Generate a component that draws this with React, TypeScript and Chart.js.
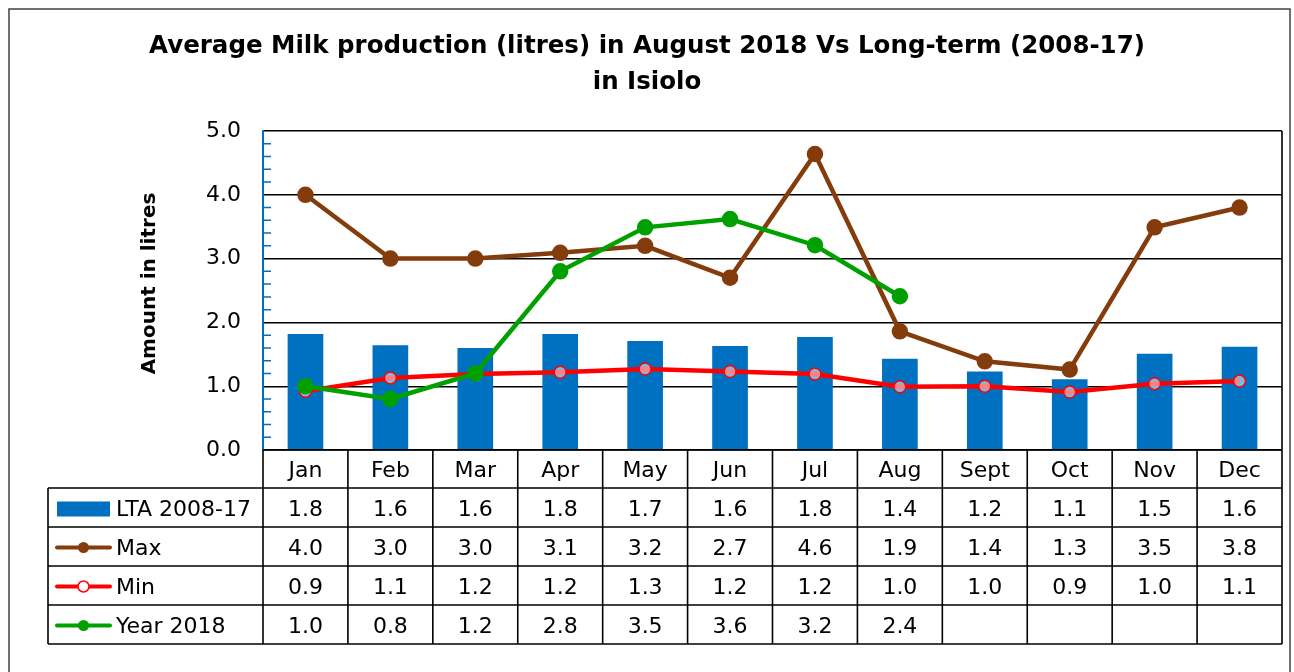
import React, { useEffect, useRef } from 'react';
import { Chart, registerables } from 'chart.js';

Chart.register(...registerables);

const titleLines = ['Average Milk production (litres) in August 2018 Vs Long-term (2008-17)', 'in Isiolo'];
const yAxisTitle = 'Amount in litres';
const months = ['Jan', 'Feb', 'Mar', 'Apr', 'May', 'Jun', 'Jul', 'Aug', 'Sept', 'Oct', 'Nov', 'Dec'];
const ltaValues = [1.82, 1.64, 1.6, 1.82, 1.71, 1.63, 1.77, 1.43, 1.23, 1.11, 1.51, 1.62];
const maxValues = [4.0, 3.0, 3.0, 3.09, 3.2, 2.7, 4.64, 1.86, 1.39, 1.26, 3.49, 3.8];
const minValues = [0.92, 1.13, 1.19, 1.22, 1.27, 1.23, 1.19, 0.99, 1.0, 0.91, 1.04, 1.08];
const year2018Values = [1.0, 0.8, 1.2, 2.8, 3.49, 3.62, 3.21, 2.41, null, null, null, null];
const seriesNames = ['LTA 2008-17', 'Max', 'Min', 'Year 2018'];

const BLUE = '#0070C0';
const BROWN = '#843C0C';
const RED = '#FF0000';
const GREEN = '#00A000';
const FONT = '"DejaVu Sans", Verdana, sans-serif';

const titlePlugin = {
  id: 'centredTitle',
  afterDraw(chart: any) {
    const ctx = chart.ctx;
    const { top, bottom } = chart.chartArea;
    ctx.save();
    ctx.fillStyle = '#000';
    ctx.textAlign = 'center';
    ctx.textBaseline = 'middle';
    ctx.font = `bold 24.5px ${FONT}`;
    titleLines.forEach((line, i) => {
      ctx.fillText(line, chart.width / 2, 47 + i * 36);
    });
    // y axis title
    ctx.translate(150, (top + bottom) / 2 - 7);
    ctx.rotate(-Math.PI / 2);
    ctx.font = `bold 20px ${FONT}`;
    ctx.fillText(yAxisTitle, 0, 0);
    ctx.restore();
  },
};

const tablePlugin = {
  id: 'dataTable',
  afterDraw(chart: any) {
    const ctx = chart.ctx;
    const { left, right, top, bottom } = chart.chartArea;
    const xs = chart.scales.x;
    const n = months.length;
    const colW = (right - left) / n;
    const headerH = 38;
    const rowH = 39;
    const legendLeft = 48;
    const rowsTop = bottom + headerH;
    const tableBottom = rowsTop + rowH * 4;

    ctx.save();
    ctx.strokeStyle = '#404040';
    ctx.lineWidth = 1.5;
    ctx.strokeRect(9, 9, 1281, 700);

    ctx.strokeStyle = '#000';
    ctx.lineWidth = 1.6;
    ctx.beginPath();
    ctx.moveTo(left, bottom);
    ctx.lineTo(right, bottom);
    ctx.moveTo(right, top);
    ctx.lineTo(right, tableBottom);
    for (let r = 0; r <= 4; r++) {
      const y = rowsTop + r * rowH;
      ctx.moveTo(legendLeft, y);
      ctx.lineTo(right, y);
    }
    for (let i = 0; i <= n; i++) {
      const x = left + i * colW;
      ctx.moveTo(x, bottom);
      ctx.lineTo(x, tableBottom);
    }
    ctx.moveTo(legendLeft, rowsTop);
    ctx.lineTo(legendLeft, tableBottom);
    ctx.stroke();

    ctx.fillStyle = '#000';
    ctx.font = `22px ${FONT}`;
    ctx.textAlign = 'center';
    ctx.textBaseline = 'middle';
    months.forEach((m, i) => {
      ctx.fillText(m, xs.getPixelForValue(i), bottom + headerH / 2 + 2);
    });

    const rows = [ltaValues, maxValues, minValues, year2018Values];
    rows.forEach((vals, r) => {
      const cy = rowsTop + r * rowH + rowH / 2 + 2.5;
      vals.forEach((v, i) => {
        if (v === null || v === undefined) return;
        ctx.fillText((v as number).toFixed(1), xs.getPixelForValue(i), cy);
      });
    });

    const keyL = 57;
    const keyR = 110;
    const keyC = (keyL + keyR) / 2;
    const colors = [BLUE, BROWN, RED, GREEN];
    rows.forEach((_, r) => {
      const cy = rowsTop + r * rowH + rowH / 2;
      if (r === 0) {
        ctx.fillStyle = BLUE;
        ctx.fillRect(keyL, cy - 6, keyR - keyL, 15);
      } else {
        ctx.strokeStyle = colors[r];
        ctx.lineWidth = 4;
        ctx.lineCap = 'round';
        ctx.beginPath();
        ctx.moveTo(keyL, cy + 1);
        ctx.lineTo(keyR, cy + 1);
        ctx.stroke();
        ctx.beginPath();
        ctx.arc(keyC, cy + 1, 5.5, 0, Math.PI * 2);
        if (r === 2) {
          ctx.fillStyle = '#fff';
          ctx.fill();
          ctx.lineWidth = 1.5;
          ctx.stroke();
        } else {
          ctx.fillStyle = colors[r];
          ctx.fill();
        }
      }
      ctx.fillStyle = '#000';
      ctx.textAlign = 'left';
      ctx.fillText(seriesNames[r], 116, cy + 2.5);
    });
    ctx.restore();
  },
};

const minorTickPlugin = {
  id: 'minorTicks',
  afterDatasetsDraw(chart: any) {
    const ctx = chart.ctx;
    const ys = chart.scales.y;
    const { left } = chart.chartArea;
    ctx.save();
    ctx.strokeStyle = BLUE;
    ctx.lineWidth = 1.5;
    ctx.beginPath();
    for (let k = 1; k < 25; k++) {
      if (k % 5 === 0) continue;
      const y = ys.getPixelForValue(k * 0.2);
      ctx.moveTo(left, y);
      ctx.lineTo(left + 8, y);
    }
    ctx.stroke();
    ctx.restore();
  },
};

export default function App() {
  const ref = useRef<HTMLCanvasElement>(null);

  useEffect(() => {
    if (!ref.current) return;
    const chart = new Chart(ref.current, {
      type: 'bar',
      data: {
        labels: months,
        datasets: [
          {
            type: 'bar',
            label: seriesNames[0],
            data: ltaValues,
            backgroundColor: BLUE,
            barPercentage: 0.42,
            categoryPercentage: 1,
            order: 4,
          },
          {
            type: 'line',
            label: seriesNames[1],
            data: maxValues,
            borderColor: BROWN,
            backgroundColor: BROWN,
            borderWidth: 4.5,
            pointRadius: 6,
            pointBackgroundColor: BROWN,
            pointBorderColor: BROWN,
            order: 3,
          },
          {
            type: 'line',
            label: seriesNames[2],
            data: minValues,
            borderColor: RED,
            backgroundColor: RED,
            borderWidth: 4.5,
            pointRadius: 6,
            pointBackgroundColor: 'rgba(255,255,255,0.5)',
            pointBorderColor: RED,
            pointBorderWidth: 1.5,
            order: 2,
          },
          {
            type: 'line',
            label: seriesNames[3],
            data: year2018Values,
            borderColor: GREEN,
            backgroundColor: GREEN,
            borderWidth: 4.5,
            pointRadius: 6,
            pointBackgroundColor: GREEN,
            pointBorderColor: GREEN,
            spanGaps: false,
            order: 1,
          },
        ],
      },
      options: {
        responsive: false,
        animation: false,
        layout: { padding: { left: 128, right: 12, top: 131, bottom: 222 } },
        plugins: {
          legend: { display: false },
          tooltip: { enabled: false },
          title: { display: false },
        },
        scales: {
          x: {
            display: false,
            offset: true,
          },
          y: {
            min: 0,
            max: 5,
            afterFit: (scale: any) => {
              scale.width = 135;
            },
            ticks: {
              stepSize: 1,
              color: '#000',
              font: { family: FONT, size: 22 },
              padding: 22,
              callback: (v: any) => Number(v).toFixed(1),
            },
            grid: { color: '#000', lineWidth: 1.4, drawTicks: false },
            border: { color: BLUE, width: 2 },
            title: { display: false },
          },
        },
      },
      plugins: [minorTickPlugin, tablePlugin, titlePlugin],
    } as any);
    return () => chart.destroy();
  }, []);

  return (
    <div style={{ position: 'absolute', left: 0, top: 0, width: 1294, height: 672, background: '#fff' }}>
      <canvas ref={ref} width={1294} height={672} style={{ display: 'block' }} />
    </div>
  );
}
